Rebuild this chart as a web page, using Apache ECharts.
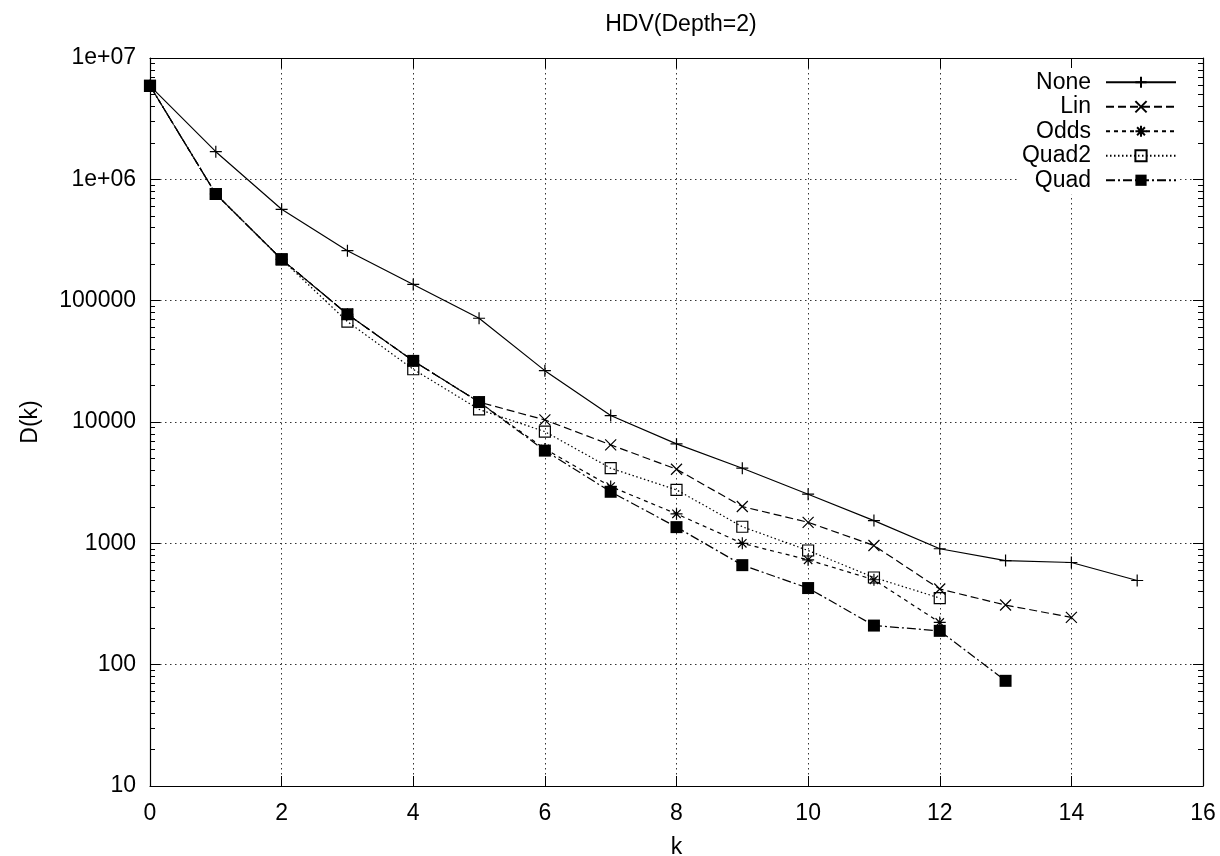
<!DOCTYPE html>
<html>
<head>
<meta charset="utf-8">
<script src="https://cdn.jsdelivr.net/npm/echarts@6/dist/echarts.min.js"></script>
<style>
  html, body { margin: 0; padding: 0; background: #fff; }
  #main { width: 1220px; height: 856px; }
</style>
</head>
<body>
<div id="main"></div>
<script>
// 数据（从图上读出来的）
var seriesNames = ['None', 'Lin', 'Odds', 'Quad2', 'Quad'];
var noneVals  = [5.9e6, 1.69e6, 5.66e5, 2.58e5, 1.36e5, 7.16e4, 2.65e4, 1.13e4, 6600, 4160, 2540, 1540, 902, 721, 695, 494];
var linVals   = [5.9e6, 7.57e5, 2.19e5, 7.73e4, 3.19e4, 1.46e4, 1.04e4, 6480, 4080, 2010, 1490, 960, 420, 310, 245];
var oddsVals  = [5.9e6, 7.57e5, 2.19e5, 7.73e4, 3.19e4, 1.46e4, 6000, 2940, 1750, 1000, 731, 501, 223];
var quad2Vals = [5.9e6, 7.57e5, 2.19e5, 6.72e4, 2.72e4, 1.27e4, 8330, 4160, 2760, 1370, 873, 523, 354];
var quadVals  = [5.9e6, 7.57e5, 2.19e5, 7.73e4, 3.19e4, 1.46e4, 5810, 2660, 1360, 661, 428, 210, 190, 73.6];
var yTickLabels = ['10', '100', '1000', '10000', '100000', '1e+06', '1e+07'];

// 把数组变成 [k, D(k)]
function toPairs(arr) {
    return arr.map(function (v, k) { return [k, v]; });
}

var myChart = echarts.init(document.getElementById('main'));

var font = 'Liberation Sans, Arial, sans-serif';
var fs = 23;
var plusPath = 'path://M5,0L5,10M0,5L10,5';
var crossPath = 'path://M0,0L10,10M10,0L0,10';
var starPath = 'path://M5,0L5,10M0,5L10,5M1.5,1.5L8.5,8.5M8.5,1.5L1.5,8.5';

function lineSeries(name, vals, symbol, size, dash, filled) {
    return {
        name: name,
        type: 'line',
        data: toPairs(vals),
        symbol: symbol,
        symbolSize: size,
        showAllSymbol: true,
        lineStyle: { color: '#000', width: 1.2, type: dash },
        itemStyle: filled ? { color: '#000' } : { color: 'rgba(0,0,0,0)', borderColor: '#000', borderWidth: 1.2 },
        emphasis: { disabled: true },
        animation: false
    };
}

// 对数轴的次刻度
var minorTick = { show: true, splitNumber: 9, length: 5, lineStyle: { color: '#000', width: 1 } };

var option = {
    color: ['#000'],
    backgroundColor: '#fff',
    title: {
        text: 'HDV(Depth=2)',
        left: 676,
        textAlign: 'center',
        top: 8,
        textStyle: { fontFamily: font, fontSize: fs, fontWeight: 'normal', color: '#000' }
    },
    grid: { left: 150, right: 17, top: 58, bottom: 70, containLabel: false, outerBoundsMode: 'none' },
    legend: {
        orient: 'vertical',
        right: 43,
        top: 68,
        align: 'right',
        itemWidth: 70,
        itemHeight: 14,
        itemGap: 0,
        padding: [2, 0, 2, 4],
        backgroundColor: '#fff',
        selectedMode: false,
        textStyle: { fontFamily: font, fontSize: fs, color: '#000', lineHeight: 24.5, padding: [0, 10, 0, 0] },
        data: seriesNames
    },
    xAxis: [{
        type: 'value',
        min: 0,
        max: 16,
        interval: 2,
        name: 'k',
        nameLocation: 'middle',
        nameGap: 50,
        nameTextStyle: { fontFamily: font, fontSize: fs, color: '#000' },
        axisLine: { show: true, onZero: false, lineStyle: { color: '#000', width: 1.2 } },
        axisTick: { inside: true, length: 10, lineStyle: { color: '#000' } },
        axisLabel: { fontFamily: font, fontSize: fs, color: '#000', margin: 16 },
        splitLine: { show: true, lineStyle: { color: '#333', type: [1.5, 3.5], width: 1 } }
    }, {
        type: 'value',
        position: 'top',
        min: 0,
        max: 16,
        interval: 2,
        axisLine: { show: true, onZero: false, lineStyle: { color: '#000', width: 1.2 } },
        axisTick: { inside: true, length: 10, lineStyle: { color: '#000' } },
        axisLabel: { show: false },
        splitLine: { show: false }
    }],
    yAxis: [{
        type: 'log',
        logBase: 10,
        min: 10,
        max: 1e7,
        name: 'D(k)',
        nameLocation: 'middle',
        nameGap: 108,
        nameTextStyle: { fontFamily: font, fontSize: fs, color: '#000' },
        axisLine: { show: true, onZero: false, lineStyle: { color: '#000', width: 1.2 } },
        axisTick: { inside: true, length: 10, lineStyle: { color: '#000' } },
        minorTick: minorTick,
        axisLabel: {
            fontFamily: font, fontSize: fs, color: '#000', margin: 14,
            formatter: function (v) {
                var i = Math.round(Math.log10(v)) - 1;
                return yTickLabels[i] !== undefined ? yTickLabels[i] : '';
            }
        },
        splitLine: { show: true, lineStyle: { color: '#333', type: [1.5, 3.5], width: 1 } }
    }, {
        type: 'log',
        logBase: 10,
        min: 10,
        max: 1e7,
        position: 'right',
        axisLine: { show: true, onZero: false, lineStyle: { color: '#000', width: 1.2 } },
        axisTick: { inside: true, length: 10, lineStyle: { color: '#000' } },
        minorTick: minorTick,
        axisLabel: { show: false },
        splitLine: { show: false }
    }],
    series: [
        lineSeries('None', noneVals, plusPath, 12, 'solid', false),
        lineSeries('Lin', linVals, crossPath, 11, [8, 4], false),
        lineSeries('Odds', oddsVals, starPath, 12, [4, 4], false),
        lineSeries('Quad2', quad2Vals, 'rect', 11, [1.5, 2.5], false),
        lineSeries('Quad', quadVals, 'rect', 12, [9, 3, 2, 3], true)
    ]
};

myChart.setOption(option);
</script>
</body>
</html>
